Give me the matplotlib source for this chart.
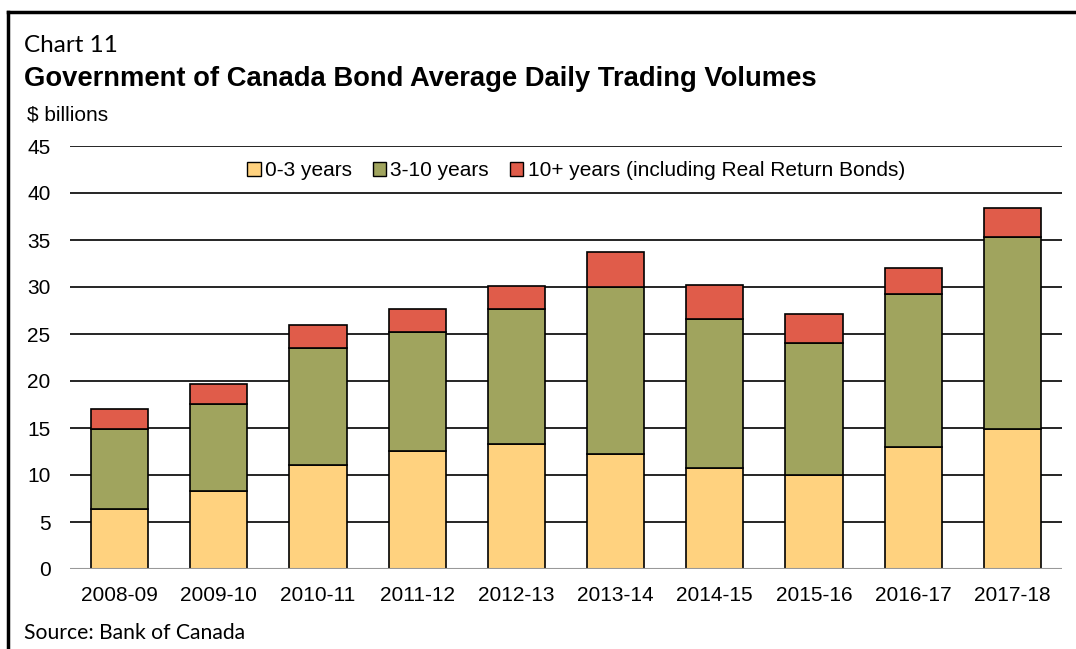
import matplotlib
matplotlib.use("Agg")
import matplotlib.pyplot as plt
import numpy as np
from matplotlib.lines import Line2D

plt.rcParams["font.family"] = ["Liberation Sans", "DejaVu Sans"]

YEARS = ["2008-09", "2009-10", "2010-11", "2011-12", "2012-13",
         "2013-14", "2014-15", "2015-16", "2016-17", "2017-18"]
SHORT = [6.4, 8.3, 11.1, 12.6, 13.3, 12.2, 10.7, 10.0, 13.0, 14.9]
MEDIUM = [8.5, 9.3, 12.4, 12.6, 14.4, 17.8, 15.9, 14.0, 16.3, 20.4]
LONG = [2.1, 2.1, 2.5, 2.5, 2.4, 3.7, 3.6, 3.1, 2.7, 3.1]
LABELS = ["0-3 years", "3-10 years", "10+ years (including Real Return Bonds)"]
COLORS = ["#FFD27F", "#A0A45E", "#E05C4A"]

W, H = 1076, 649
fig = plt.figure(figsize=(W / 100, H / 100), dpi=100)
ax = fig.add_axes([70 / W, 1 - 569 / H, (1062 - 70) / W, (569 - 146) / H])

x = np.arange(len(YEARS))
bottom = np.zeros(len(YEARS))
for vals, lab, col in zip([SHORT, MEDIUM, LONG], LABELS, COLORS):
    ax.bar(x, vals, 0.575, bottom=bottom, color=col, edgecolor="black",
           linewidth=1.2, label=lab, zorder=3)
    bottom += np.array(vals)

ax.set_xlim(-0.5, len(YEARS) - 0.5)
ax.set_ylim(0, 45)
ax.set_yticks(range(0, 46, 5))
ax.set_xticks(x)
ax.set_xticklabels(YEARS)
for y in range(5, 46, 5):
    ax.axhline(y, color="black", lw=1.2, zorder=1)
ax.axhline(0, color="#999999", lw=1.5, zorder=4)
for s in ax.spines.values():
    s.set_visible(False)
ax.tick_params(length=0, labelsize=15)
ax.tick_params(axis="y", pad=14)
ax.tick_params(axis="x", pad=12)

handles = [plt.Rectangle((0, 0), 1, 1, facecolor=c, edgecolor="black", lw=1)
           for c in COLORS]
leg = ax.legend(handles, LABELS, loc="center", bbox_to_anchor=(0.51, 0.942),
                ncol=3, frameon=False, fontsize=15, handlelength=0.65,
                handleheight=0.65, handletextpad=0.2, columnspacing=1.0)
leg.set_zorder(5)

fig.text(24 / W, 1 - 46 / H, "Chart 11", fontsize=17.5, va="center",
         family=["Lato", "DejaVu Sans"])
fig.text(24 / W, 1 - 79 / H, "Government of Canada Bond Average Daily Trading Volumes",
         fontsize=19.7, fontweight="bold", va="center")
fig.text(27 / W, 1 - 115 / H, "$ billions", fontsize=15, va="center")
fig.text(24 / W, 1 - 633 / H, "Source: Bank of Canada", fontsize=15.2, va="center",
         family=["Lato", "DejaVu Sans"])

fig.add_artist(Line2D([8 / W, 8 / W], [0, 1 - 12 / H], color="black", lw=2.5,
                      transform=fig.transFigure))
fig.add_artist(Line2D([8 / W, 1], [1 - 12 / H, 1 - 12 / H], color="black", lw=2.5,
                      transform=fig.transFigure))

fig.savefig("out.png", dpi=100)
